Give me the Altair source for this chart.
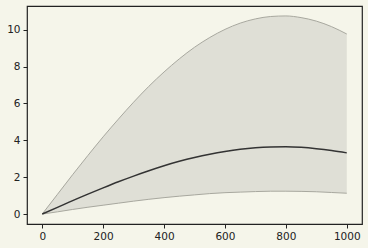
import altair as alt
import pandas as pd

xs = [0, 50, 100, 150, 200, 250, 300, 350, 400, 450, 500, 550, 600, 650, 700, 750, 800, 850, 900, 950, 1000]
mid = [0, 0.36, 0.73, 1.08, 1.42, 1.75, 2.06, 2.35, 2.62, 2.86, 3.07, 3.25, 3.40, 3.52, 3.60, 3.64, 3.65, 3.62, 3.55, 3.45, 3.32]
low = [0, 0.12, 0.25, 0.37, 0.48, 0.59, 0.70, 0.80, 0.89, 0.97, 1.04, 1.11, 1.16, 1.19, 1.22, 1.24, 1.24, 1.23, 1.21, 1.17, 1.13]
up = [0, 1.07, 2.14, 3.18, 4.19, 5.15, 6.07, 6.93, 7.71, 8.42, 9.05, 9.58, 10.02, 10.36, 10.59, 10.72, 10.75, 10.66, 10.47, 10.17, 9.77]

df = pd.DataFrame({"x": xs, "mid": mid, "low": low, "up": up})

xsc = alt.Scale(domain=[-50, 1050], nice=False, zero=False)
ysc = alt.Scale(domain=[-0.54, 11.29], nice=False, zero=False)

xax = alt.Axis(values=[0, 200, 400, 600, 800, 1000], format="d", title=None, grid=False, domain=False,
               tickColor="#222222", tickSize=4, labelColor="#222222", labelFontSize=10.5,
               labelFont="DejaVu Sans", labelPadding=3)
yax = alt.Axis(values=[0, 2, 4, 6, 8, 10], format="d", title=None, grid=False, domain=False,
               tickColor="#222222", tickSize=4, labelColor="#222222", labelFontSize=10.5,
               labelFont="DejaVu Sans", labelPadding=3)

base = alt.Chart(df)
band = base.mark_area(color="#dfdfd6", opacity=1, interpolate="monotone").encode(
    x=alt.X("x:Q", scale=xsc, axis=xax), y=alt.Y("low:Q", scale=ysc, axis=yax), y2="up:Q")
upl = base.mark_line(color="#a8a89f", strokeWidth=1, interpolate="monotone").encode(
    x=alt.X("x:Q", scale=xsc), y=alt.Y("up:Q", scale=ysc))
lowl = base.mark_line(color="#a8a89f", strokeWidth=1, interpolate="monotone").encode(
    x=alt.X("x:Q", scale=xsc), y=alt.Y("low:Q", scale=ysc))
midl = base.mark_line(color="#333333", strokeWidth=1.5, interpolate="monotone").encode(
    x=alt.X("x:Q", scale=xsc), y=alt.Y("mid:Q", scale=ysc))

chart = alt.layer(band, upl, lowl, midl).properties(
    width=335, height=218, background="#f5f5ea",
    autosize=alt.AutoSizeParams(type="none"),
    padding={"left": 27, "top": 6, "right": 6, "bottom": 24},
).configure_view(stroke="#222222", strokeWidth=1.2, fill="#f5f5ea")

chart.save("out.html", embed_options={"renderer": "svg", "actions": False})
